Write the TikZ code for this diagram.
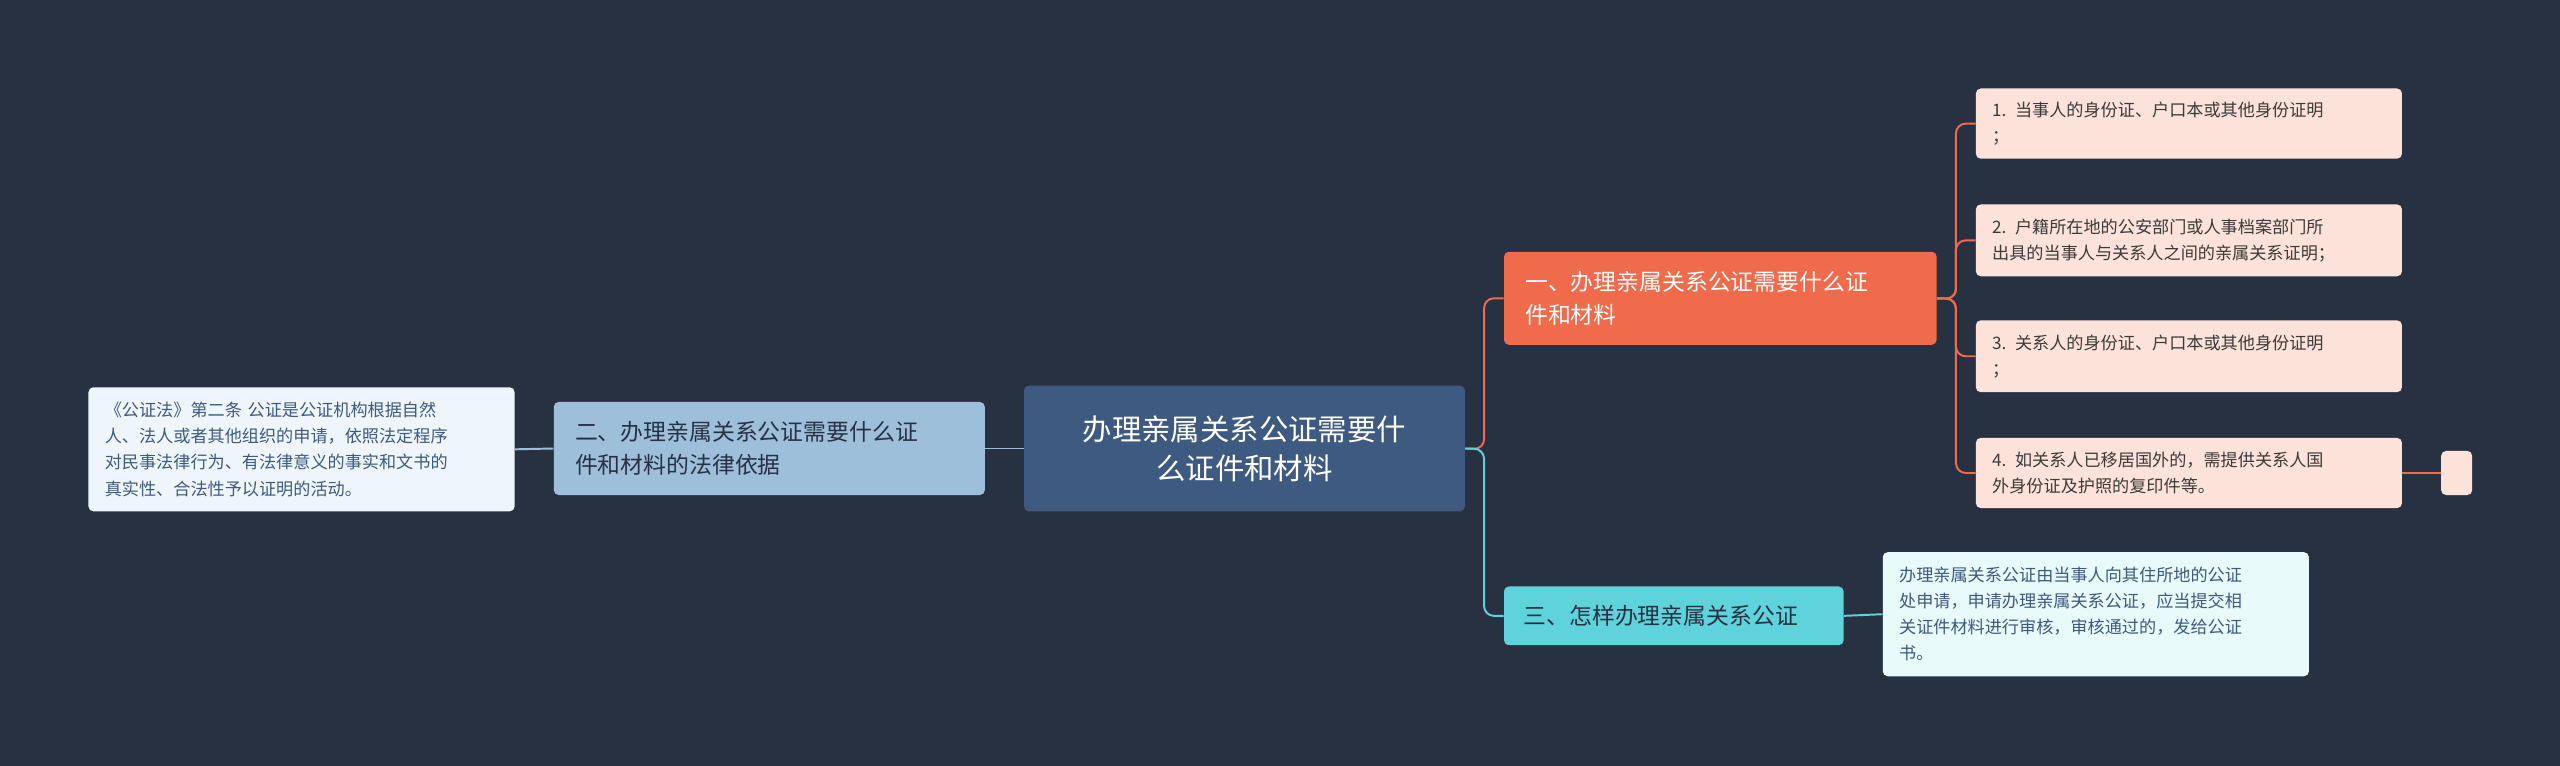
\documentclass[tikz,border=0pt]{standalone}
\usepackage{fontspec}
\setmainfont{Noto Sans CJK SC}
\definecolor{bgc}{HTML}{283142}
\definecolor{rootc}{HTML}{3E5A80}
\definecolor{bluec}{HTML}{9DBFD9}
\definecolor{blueleaf}{HTML}{EEF6FB}
\definecolor{orangec}{HTML}{EF6B4C}
\definecolor{orangeleaf}{HTML}{FDE2DA}
\definecolor{cyanc}{HTML}{5FD3DC}
\definecolor{cyanleaf}{HTML}{E8FAFA}
\definecolor{leaftext}{HTML}{3A3A3A}
\tikzset{
  box/.style={rounded corners=3pt,inner sep=0pt,align=left,anchor=north west},
  rootbox/.style={box,fill=rootc,text=white,font=\fontsize{18}{24}\selectfont,align=center},
  topicbox/.style={box,font=\fontsize{14}{20}\selectfont},
  leafbox/.style={box,font=\fontsize{10.5}{16}\selectfont,text=leaftext},
  link/.style={line width=1.2pt,rounded corners=6pt}
}
\begin{document}
\begin{tikzpicture}[x=1pt,y=-1pt]
\fill[bgc] (0,0) rectangle (1568,469);
% root
\node[rootbox,minimum width=270pt,minimum height=77pt] (root) at (627,236) {办理亲属关系公证需要什\\么证件和材料};
% left branch
\node[topicbox,fill=bluec,text=bgc,minimum width=264pt,minimum height=57pt,text width=254pt] (law) at (339,246) {\hspace*{8pt}二、办理亲属关系公证需要什么证\\\hspace*{8pt}件和材料的法律依据};
\node[leafbox,fill=blueleaf,text=rootc,minimum width=261pt,minimum height=76pt,text width=253pt] (lawtext) at (54,237) {\hspace*{6pt}《公证法》第二条 公证是公证机构根据自然\\\hspace*{6pt}人、法人或者其他组织的申请，依照法定程序\\\hspace*{6pt}对民事法律行为、有法律意义的事实和文书的\\\hspace*{6pt}真实性、合法性予以证明的活动。};
% right branch one
\node[topicbox,fill=orangec,text=white,minimum width=265pt,minimum height=57pt,text width=255pt] (docs) at (921,154) {\hspace*{8pt}一、办理亲属关系公证需要什么证\\\hspace*{8pt}件和材料};
\node[leafbox,fill=orangeleaf,minimum width=261pt,minimum height=43pt,text width=253pt] (d1) at (1210,54) {\hspace*{6pt}1. 当事人的身份证、户口本或其他身份证明\\\hspace*{6pt}；};
\node[leafbox,fill=orangeleaf,minimum width=261pt,minimum height=44pt,text width=253pt] (d2) at (1210,125) {\hspace*{6pt}2. 户籍所在地的公安部门或人事档案部门所\\\hspace*{6pt}出具的当事人与关系人之间的亲属关系证明；};
\node[leafbox,fill=orangeleaf,minimum width=261pt,minimum height=44pt,text width=253pt] (d3) at (1210,196) {\hspace*{6pt}3. 关系人的身份证、户口本或其他身份证明\\\hspace*{6pt}；};
\node[leafbox,fill=orangeleaf,minimum width=261pt,minimum height=43pt,text width=253pt] (d4) at (1210,268) {\hspace*{6pt}4. 如关系人已移居国外的，需提供关系人国\\\hspace*{6pt}外身份证及护照的复印件等。};
\node[box,fill=orangeleaf,minimum width=19pt,minimum height=27pt] (d4x) at (1495,276) {};
% right branch three
\node[topicbox,fill=cyanc,text=bgc,minimum width=208pt,minimum height=36pt,text width=200pt] (how) at (921,359) {\hspace*{8pt}三、怎样办理亲属关系公证};
\node[leafbox,fill=cyanleaf,text=rootc,minimum width=261pt,minimum height=76pt,text width=253pt] (howtext) at (1153,338) {\hspace*{6pt}办理亲属关系公证由当事人向其住所地的公证\\\hspace*{6pt}处申请，申请办理亲属关系公证，应当提交相\\\hspace*{6pt}关证件材料进行审核，审核通过的，发给公证\\\hspace*{6pt}书。};
% links
\draw[link,bluec] (root.west) -- (law.east);
\draw[link,bluec] (law.west) -- (lawtext.east);
\draw[link,orangec] (root.east) -- (909,275) |- (docs.west);
\draw[link,cyanc] (root.east) -- (909,275) |- (how.west);
\draw[link,cyanc] (how.east) -- (howtext.west);
\foreach \leaf in {d1,d2,d3,d4}
  \draw[link,orangec] (docs.east) -- (1198,183) |- (\leaf.west);
\draw[link,orangec] (d4.east) -- (d4x.west);
\end{tikzpicture}
\end{document}
